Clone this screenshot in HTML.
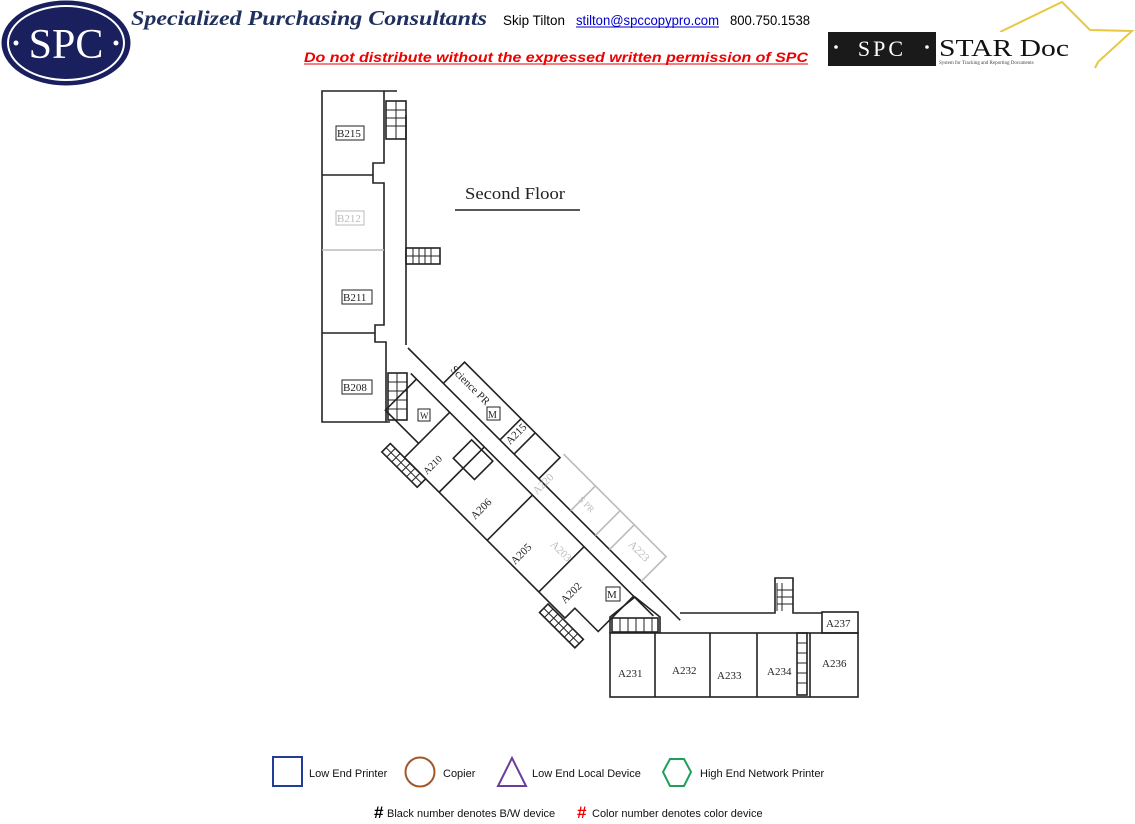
<!DOCTYPE html>
<html><head><meta charset="utf-8"><style>
html,body{margin:0;padding:0;background:#fff;}
body{width:1135px;height:824px;overflow:hidden;position:relative;font-family:"Liberation Sans",sans-serif;}
</style></head><body>
<svg width="1135" height="824" viewBox="0 0 1135 824" xmlns="http://www.w3.org/2000/svg" style="position:absolute;left:0;top:0">
<!-- SPC logo -->
<ellipse cx="66" cy="43" rx="64" ry="42" fill="#1a1f5e" stroke="#1a1f5e"/>
<ellipse cx="66" cy="43" rx="58" ry="37" fill="none" stroke="#fff" stroke-width="2"/>
<text x="66" y="58" text-anchor="middle" font-family="Liberation Serif,serif" font-size="42" fill="#fff">SPC</text>
<circle cx="16" cy="43" r="2.5" fill="#fff"/><circle cx="116" cy="43" r="2.5" fill="#fff"/>
<text x="131" y="25" font-family="Liberation Serif,serif" font-style="italic" font-weight="bold" font-size="21" fill="#1f2f5e" textLength="356" lengthAdjust="spacingAndGlyphs">Specialized Purchasing Consultants</text>
<text x="503" y="25" font-size="14" fill="#000" textLength="62" lengthAdjust="spacingAndGlyphs">Skip Tilton</text>
<text x="576" y="25" font-size="14" fill="#00c" textLength="143" lengthAdjust="spacingAndGlyphs">stilton@spccopypro.com</text>
<line x1="576" y1="27" x2="719" y2="27" stroke="#00c"/>
<text x="730" y="25" font-size="14" fill="#000" textLength="80" lengthAdjust="spacingAndGlyphs">800.750.1538</text>
<text x="304" y="62" font-size="14" font-weight="bold" font-style="italic" fill="#e00" textLength="504" lengthAdjust="spacingAndGlyphs">Do not distribute without the expressed written permission of SPC</text>
<line x1="304" y1="64" x2="808" y2="64" stroke="#e00"/>
<!-- STAR Doc logo -->
<polyline points="1000,32 1062,2 1090,30 1132,31 1098,62 1095,68" fill="none" stroke="#e8c840" stroke-width="2"/>
<rect x="828" y="32" width="108" height="34" fill="#1a1a1a"/>
<text x="882" y="56" text-anchor="middle" font-family="Liberation Serif,serif" font-size="22" fill="#fff" letter-spacing="3">SPC</text>
<circle cx="836" cy="47" r="1.8" fill="#fff"/><circle cx="927" cy="47" r="1.8" fill="#fff"/>
<rect x="936" y="32" width="158" height="34" fill="#fff"/>
<text x="939" y="56" font-family="Liberation Serif,serif" font-size="24" fill="#111" textLength="130" lengthAdjust="spacingAndGlyphs">STAR Doc</text>
<text x="939" y="64" font-family="Liberation Serif,serif" font-size="5" fill="#444">System for Tracking and Reporting Documents</text>

<!-- FLOOR PLAN -->
<g fill="none" stroke="#222" stroke-width="1.6">
<polyline points="397,91 322,91 322,422 390,422"/>
<polyline points="384,91 384,163 373,163 373,183 384,183 384,325 375,325 375,342 386,342 386,422"/>
<line x1="406" y1="115" x2="406" y2="345"/>
<line x1="322" y1="175" x2="373" y2="175"/>
<line x1="322" y1="250" x2="384" y2="250" stroke="#bbb"/>
<line x1="322" y1="333" x2="375" y2="333"/>
<rect x="386" y="101" width="20" height="38"/>
<path d="M386,110h20M386,118h20M386,126h20M396,101v38" stroke-width="1"/>
<rect x="406" y="248" width="34" height="16"/>
<path d="M413,248v16M419,248v16M425,248v16M431,248v16M406,256h34" stroke-width="1"/>
<rect x="388" y="373" width="19" height="47"/>
<path d="M388,382h19M388,391h19M388,400h19M388,409h19M397,373v47" stroke-width="1"/>
</g>

<g transform="translate(408,348) rotate(45)" fill="none" stroke="#222" stroke-width="1.6">
<line x1="0" y1="0" x2="385" y2="0"/>
<line x1="20" y1="16" x2="363" y2="16"/>
<polyline points="50,0 50,-30 185,-30 185,0"/>
<line x1="130" y1="-30" x2="130" y2="0"/>
<line x1="150" y1="-30" x2="150" y2="0"/>
<g stroke="#bbb"><polyline points="185,-35 330,-35 330,0"/><line x1="230" y1="-35" x2="230" y2="0"/><line x1="265" y1="-35" x2="265" y2="0"/><line x1="285" y1="-35" x2="285" y2="0"/></g>
<polyline points="28,16 28,60 75,60"/>
<polyline points="75,16 75,80 302,80 302,66 335,66 335,16"/>
<line x1="124" y1="16" x2="124" y2="80"/>
<line x1="192" y1="16" x2="192" y2="80"/>
<line x1="265" y1="16" x2="265" y2="80"/>
<rect x="110" y="20" width="30" height="26"/>
<rect x="55" y="80" width="50" height="12"/>
<path d="M62,80v12M69,80v12M76,80v12M83,80v12M90,80v12M97,80v12M55,86h50" stroke-width="1"/>
<rect x="280" y="82" width="50" height="12"/>
<path d="M287,82v12M294,82v12M301,82v12M308,82v12M315,82v12M322,82v12M280,88h50" stroke-width="1"/>
</g>

<g fill="none" stroke="#222" stroke-width="1.6">
<polyline points="680,613 775,613 775,578 793,578 793,613 822,613"/>
<rect x="822" y="612" width="36" height="21"/>
<rect x="610" y="633" width="248" height="64"/>
<line x1="655" y1="633" x2="655" y2="697"/><line x1="710" y1="633" x2="710" y2="697"/>
<line x1="757" y1="633" x2="757" y2="697"/><line x1="810" y1="633" x2="810" y2="697"/>
<polyline points="610,633 610,617 635,597 660,617 660,633"/>
<rect x="612" y="618" width="46" height="14"/>
<path d="M620,618v14M628,618v14M636,618v14M644,618v14M652,618v14" stroke-width="1"/>
<rect x="797" y="633" width="10" height="62"/>
<path d="M797,643h10M797,653h10M797,663h10M797,673h10M797,683h10" stroke-width="1"/>
<path d="M777,583v28M782,583v28M777,590h16M777,597h16M777,604h16" stroke-width="1"/>
</g>

<text x="465" y="199" font-family="Liberation Serif,serif" font-size="17" fill="#222" textLength="100" lengthAdjust="spacingAndGlyphs">Second Floor</text>
<line x1="455" y1="210" x2="580" y2="210" stroke="#222" stroke-width="1.5"/>

<g font-family="Liberation Serif,serif" font-size="11" fill="#222">
<rect x="336" y="126" width="28" height="14" fill="none" stroke="#222"/><text x="337" y="137">B215</text>
<rect x="336" y="211" width="28" height="14" fill="none" stroke="#bbb"/><text x="337" y="222" fill="#bbb">B212</text>
<rect x="342" y="290" width="30" height="14" fill="none" stroke="#222"/><text x="343" y="301">B211</text>
<rect x="342" y="380" width="30" height="14" fill="none" stroke="#222"/><text x="343" y="391">B208</text>
<rect x="418" y="409" width="12" height="12" fill="none" stroke="#222"/><text x="420" y="419" font-size="9">W</text>
<rect x="487" y="407" width="13" height="13" fill="none" stroke="#222"/><text x="488" y="418" font-size="10">M</text>
<rect x="606" y="587" width="14" height="14" fill="none" stroke="#222"/><text x="607" y="598" font-size="11">M</text>
<text transform="translate(450,370) rotate(45)" font-size="11">Science PR</text>
<text transform="translate(510,445) rotate(-45)">A215</text>
<text transform="translate(427,475) rotate(-45)" font-size="10">A210</text>
<text transform="translate(475,520) rotate(-45)">A206</text>
<text transform="translate(515,565) rotate(-45)">A205</text>
<text transform="translate(565,604) rotate(-45)">A202</text>
<g fill="#bbb"><text transform="translate(537,495) rotate(-45)">A220</text>
<text transform="translate(550,545) rotate(45)">A203</text>
<text transform="translate(578,500) rotate(45)" font-size="9">S PR</text>
<text transform="translate(628,545) rotate(45)">A223</text></g>
<text x="618" y="677">A231</text><text x="672" y="674">A232</text><text x="717" y="679">A233</text>
<text x="767" y="675">A234</text><text x="822" y="667">A236</text><text x="826" y="627">A237</text>
</g>

<rect x="273" y="757" width="29" height="29" fill="none" stroke="#1f3d99" stroke-width="2"/>
<text x="309" y="777" font-size="11" fill="#111">Low End Printer</text>
<circle cx="420" cy="772" r="14.5" fill="none" stroke="#a0582a" stroke-width="2"/>
<text x="443" y="777" font-size="11" fill="#111">Copier</text>
<polygon points="512,758 498,786 526,786" fill="none" stroke="#6a3d9a" stroke-width="2"/>
<text x="532" y="777" font-size="11" fill="#111">Low End Local Device</text>
<polygon points="670,759 684,759 691,772 684,786 670,786 663,772" fill="none" stroke="#1ea05a" stroke-width="2"/>
<text x="700" y="777" font-size="11" fill="#111">High End Network Printer</text>
<text x="374" y="818" font-size="17" font-weight="bold" fill="#000">#</text>
<text x="387" y="817" font-size="11" fill="#111">Black number denotes B/W device</text>
<text x="577" y="818" font-size="17" font-weight="bold" fill="#e00">#</text>
<text x="592" y="817" font-size="11" fill="#111">Color number denotes color device</text>
</svg>
</body></html>
